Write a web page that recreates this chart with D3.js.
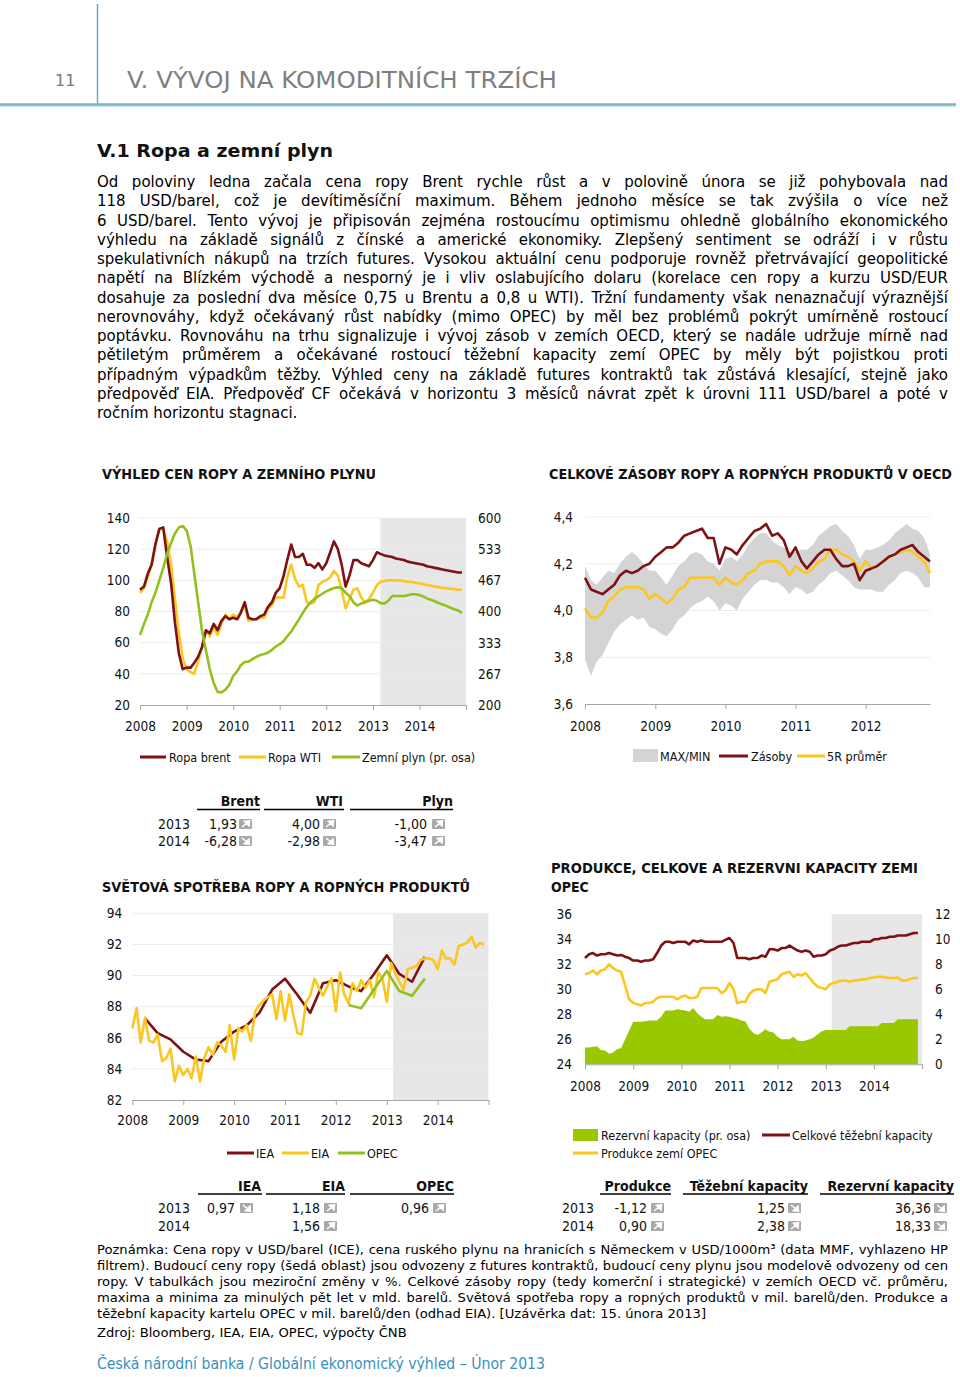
<!DOCTYPE html>
<html><head><meta charset="utf-8">
<script src="https://cdn.jsdelivr.net/npm/d3@7"></script>
<style>body{margin:0;background:#fff}svg{display:block}</style>
</head><body>
<svg id="page" width="960" height="1377"></svg>
<script>
// ---------------- DATA ----------------
// Chart 1: oil & gas prices, monthly Jan 2008 - Dec 2014
const brent = [94,96,104,110,123,133,134,115,98,73,53,43,
  44,44,47,51,57,68,66,72,68,74,77,75,
  76,75,79,86,76,75,75,77,78,83,86,92,
  95,103,113,123,115,115,117,110,110,108,111,107,
  111,118,125,120,110,96,103,113,113,111,110,109,
  113,118,117,116,115.5,115,114,113.5,113,112,111.5,111,
  110.5,110,109,108.5,108,107.5,107,106.5,106,105.5,105,105];
const wti = [92,95,102,110,124,133,133,125,110,88,66,50,
  43,41,40,48,57,68,64,70,65,72,78,75,
  78,76,80,84,74,75,75,76,76,82,84,89,
  89,89,102,110,101,96,97,86,85,86,97,99,
  100,102,106,103,94,82,88,94,95,89,86,88,
  92,97,99,99.5,100,100,100,100,99.5,99,99,98.5,
  98,97.5,97,96.5,96,95.5,95,95,94.5,94.5,94,94];
const gas = [350,373,393,420,440,467,493,523,547,567,580,583,
  573,540,483,420,360,317,277,247,228,227,233,243,
  262,272,285,292,293,298,303,307,309,312,318,325,
  330,337,347,357,370,383,397,410,420,427,433,438,
  443,447,450,452,450,440,433,420,413,417,420,423,
  425,423,418,417,423,433,433,433,433,435,437,437,
  435,432,428,425,422,418,415,412,408,405,402,397];
const priceTicks = [20,40,60,80,100,120,140];
const gasTicks = [200,267,333,400,467,533,600];
const yearLabels = ["2008","2009","2010","2011","2012","2013","2014"];

// Chart 2: OECD stocks, monthly Jan 2008 - Dec 2012
const stocks = [4.14,4.09,4.08,4.07,4.09,4.11,4.15,4.17,4.16,4.17,4.19,4.20,
  4.23,4.25,4.27,4.27,4.29,4.32,4.33,4.34,4.35,4.31,4.31,4.20,
  4.27,4.26,4.24,4.28,4.31,4.34,4.35,4.37,4.32,4.33,4.30,4.23,
  4.27,4.21,4.18,4.21,4.24,4.26,4.26,4.22,4.19,4.19,4.20,4.13,
  4.17,4.18,4.19,4.21,4.23,4.24,4.26,4.27,4.28,4.25,4.23,4.21];
const avg5 = [4.01,3.97,3.97,3.99,4.04,4.06,4.09,4.10,4.10,4.10,4.09,4.05,
  4.07,4.05,4.03,4.05,4.09,4.10,4.14,4.14,4.14,4.14,4.14,4.11,
  4.14,4.12,4.11,4.13,4.16,4.17,4.20,4.21,4.21,4.21,4.19,4.15,
  4.19,4.17,4.16,4.18,4.21,4.22,4.26,4.26,4.24,4.23,4.21,4.17,
  4.21,4.18,4.19,4.21,4.23,4.24,4.25,4.26,4.25,4.23,4.21,4.16];
const bandMax = [4.19,4.13,4.11,4.14,4.17,4.16,4.20,4.23,4.25,4.23,4.20,4.17,
  4.17,4.14,4.11,4.15,4.19,4.21,4.24,4.25,4.24,4.21,4.20,4.17,
  4.22,4.23,4.21,4.24,4.28,4.31,4.33,4.33,4.30,4.28,4.27,4.25,
  4.25,4.26,4.26,4.28,4.32,4.34,4.36,4.37,4.34,4.32,4.28,4.22,
  4.26,4.26,4.27,4.28,4.30,4.33,4.35,4.37,4.35,4.34,4.31,4.24];
const bandMin = [3.79,3.72,3.78,3.81,3.86,3.91,3.94,3.96,3.98,3.96,3.97,3.93,
  3.92,3.90,3.89,3.92,3.96,3.98,4.01,4.03,4.04,4.06,4.04,4.00,
  4.03,4.02,4.00,4.05,4.08,4.11,4.13,4.13,4.12,4.12,4.10,4.07,
  4.10,4.09,4.07,4.08,4.11,4.13,4.16,4.17,4.15,4.13,4.10,4.09,
  4.09,4.09,4.08,4.08,4.11,4.13,4.16,4.17,4.16,4.14,4.10,4.10];
const stockTicks = [3.6,3.8,4.0,4.2,4.4];
const stockYearLabels = ["2008","2009","2010","2011","2012"];

// Chart 3: world oil demand
const ieaQ = [87.25,86.3,85.9,85.1,84.6,84.5,85.75,86.4,86.8,87.6,89.1,89.8,
  88.75,87.6,89.5,89.7,89.3,89.0,90.1,91.3,90.1,89.6,91.2,92.0]; // quarterly 2008Q1-2013Q4
const eia = [86.6,87.9,85.7,87.3,85.8,85.7,86.2,84.5,84.7,85.3,83.2,84.2,
  83.6,84.0,83.4,84.8,83.2,84.7,85.4,84.9,85.7,85.5,85.1,86.8,
  84.6,86.6,86.4,86.8,85.8,87.7,88.1,88.4,88.6,88.8,87.2,89.0,
  87.1,88.8,87.5,86.3,86.2,88.3,88.7,89.8,89.2,88.7,89.3,89.8,
  87.7,90.2,88.8,88.2,89.5,89.0,89.7,89.2,89.7,88.6,90.2,89.8,
  88.3,90.8,90.2,89.6,89.1,90.4,90.5,90.6,91.0,91.1,91.1,91.0,
  90.4,91.6,91.1,91.1,90.7,91.9,92.0,92.1,92.5,91.8,92.1,92.0];
const opecQ = [88.1,87.9,89.1,90.3,89.0,88.7,89.8,91.15]; // quarterly 2012Q1-2013Q4
const demandTicks = [82,84,86,88,90,92,94];

// Chart 4: OPEC production, capacity, spare capacity
const capacity = [32.5,32.8,32.9,32.7,32.8,32.8,32.9,32.8,32.7,32.75,32.6,32.5,
  32.3,32.3,32.2,32.3,32.3,32.4,32.9,33.5,33.8,33.8,33.7,33.8,
  33.8,33.8,33.6,33.9,33.8,33.9,33.8,33.8,33.8,33.8,33.8,33.95,
  34.1,33.7,32.5,32.5,32.5,32.4,32.5,32.5,32.7,32.6,33.2,33.2,
  33.1,33.3,33.3,33.5,33.3,33.1,33.0,33.1,33.0,32.6,32.7,32.7,
  32.8,33.1,33.2,33.4,33.5,33.5,33.6,33.7,33.7,33.8,33.8,33.8,
  34.0,34.0,34.1,34.1,34.2,34.2,34.3,34.3,34.3,34.4,34.5,34.5];
const production = [31.2,31.3,31.5,31.2,31.5,31.6,32.0,31.7,31.5,31.4,30.3,29.2,
  28.9,28.8,28.7,28.9,28.9,29.0,29.3,29.4,29.4,29.4,29.4,29.2,
  29.4,29.5,29.3,29.3,29.4,30.1,30.1,30.1,30.1,30.1,29.7,29.9,
  30.5,30.0,28.9,29.0,29.0,29.6,29.9,30.0,30.0,29.7,30.6,30.7,
  30.8,31.2,31.3,31.4,31.0,31.2,31.1,31.3,30.9,30.5,30.2,30.1,
  30.0,30.4,30.5,30.6,30.7,30.7,30.6,30.7,30.7,30.8,30.8,30.9,
  30.95,31.0,31.0,30.95,30.9,30.9,30.95,30.7,30.7,30.8,30.9,30.9];
const spare = [1.35,1.35,1.4,1.45,1.15,1.1,0.85,0.95,1.2,1.3,2.0,2.7,
  3.4,3.4,3.4,3.45,3.5,3.5,3.5,3.8,4.3,4.3,4.3,4.4,
  4.35,4.3,4.2,4.5,4.1,3.8,3.6,3.6,3.6,3.95,3.8,3.85,
  3.8,3.7,3.65,3.5,3.45,2.85,2.5,2.35,2.55,2.8,2.6,2.55,
  2.2,2.0,2.0,2.0,2.2,1.9,1.85,1.9,2.0,2.15,2.4,2.65,
  2.75,2.75,2.75,2.75,2.75,2.75,3.05,3.05,3.05,3.05,3.05,3.05,
  3.05,3.05,3.3,3.3,3.3,3.3,3.6,3.6,3.6,3.6,3.6,3.6];
const capTicks = [24,26,28,30,32,34,36];
const spareTicks = [0,2,4,6,8,10,12];

// Tables (year-on-year changes, %)
const tableRows = ["2013","2014"];
const t1Cols = ["Brent","WTI","Plyn"];
const t1Vals = [["1,93","4,00","-1,00"],["-6,28","-2,98","-3,47"]];
const t1Dir  = [["up","up","up"],["down","down","up"]];
const t3Cols = ["IEA","EIA","OPEC"];
const t3Vals = [["0,97","1,18","0,96"],["","1,56",""]];
const t3Dir  = [["down","up","up"],["","up",""]];
const t4Cols = ["Produkce","Těžební kapacity","Rezervní kapacity"];
const t4Vals = [["-1,12","1,25","36,36"],["0,90","2,38","18,33"]];
const t4Dir  = [["up","down","down"],["up","up","down"]];

// Texts
const bodyLines = [
"Od poloviny ledna začala cena ropy Brent rychle růst a v polovině února se již pohybovala nad",
"118 USD/barel, což je devítiměsíční maximum. Během jednoho měsíce se tak zvýšila o více než",
"6 USD/barel. Tento vývoj je připisován zejména rostoucímu optimismu ohledně globálního ekonomického",
"výhledu na základě signálů z čínské a americké ekonomiky. Zlepšený sentiment se odráží i v růstu",
"spekulativních nákupů na trzích futures. Vysokou aktuální cenu podporuje rovněž přetrvávající geopolitické",
"napětí na Blízkém východě a nesporný je i vliv oslabujícího dolaru (korelace cen ropy a kurzu USD/EUR",
"dosahuje za poslední dva měsíce 0,75 u Brentu a 0,8 u WTI). Tržní fundamenty však nenaznačují výraznější",
"nerovnováhy, když očekávaný růst nabídky (mimo OPEC) by měl bez problémů pokrýt umírněně rostoucí",
"poptávku. Rovnováhu na trhu signalizuje i vývoj zásob v zemích OECD, který se nadále udržuje mírně nad",
"pětiletým průměrem a očekávané rostoucí těžební kapacity zemí OPEC by měly být pojistkou proti",
"případným výpadkům těžby. Výhled ceny na základě futures kontraktů tak zůstává klesající, stejně jako",
"předpověď EIA. Předpověď CF očekává v horizontu 3 měsíců návrat zpět k úrovni 111 USD/barel a poté v",
"ročním horizontu stagnaci."];
const noteLines = [
"Poznámka: Cena ropy v USD/barel (ICE), cena ruského plynu na hranicích s Německem v USD/1000m³ (data MMF, vyhlazeno HP",
"filtrem). Budoucí ceny ropy (šedá oblast) jsou odvozeny z futures kontraktů, budoucí ceny plynu jsou modelově odvozeny od cen",
"ropy. V tabulkách jsou meziroční změny v %. Celkové zásoby ropy (tedy komerční i strategické) v zemích OECD vč. průměru,",
"maxima a minima za minulých pět let v mld. barelů. Světová spotřeba ropy a ropných produktů v mil. barelů/den. Produkce a",
"těžební kapacity kartelu OPEC v mil. barelů/den (odhad EIA). [Uzávěrka dat: 15. února 2013]"];

// ---------------- DRAWING ----------------
const svg = d3.select('#page');
const F = "'DejaVu Sans Condensed','DejaVu Sans',sans-serif";
const FN = "'DejaVu Sans','Verdana',sans-serif";
const RED = '#7d1214', YEL = '#fbc620', GRN = '#93c01f', AX = '#a6a6a6', TXT = '#111';
const m84 = d3.timeMonth.range(new Date(2008,0,1), new Date(2015,0,1));
const m60 = d3.timeMonth.range(new Date(2008,0,1), new Date(2013,0,1));
const yearTicks = d3.timeYear.range(new Date(2008,0,1), new Date(2015,0,2));
const fmt1 = d3.formatLocale({decimal:',',thousands:' ',grouping:[3],currency:['','']}).format('.1f');

function txt(g, x, y, s, o={}) {
  const t = g.append('text').attr('x', x).attr('y', y).text(s)
    .style('font-family', o.family || F).style('font-size', (o.size||13)+'px')
    .attr('fill', o.fill || TXT);
  if (o.weight) t.style('font-weight', o.weight);
  if (o.anchor) t.attr('text-anchor', o.anchor);
  if (o.len) t.attr('textLength', o.len).attr('lengthAdjust', 'spacingAndGlyphs');
  return t;
}
// justified block; font size is scaled so the widest justified line fits exactly
function justify(g, lines, x, y, lh, width, family, size, fill, maxSize) {
  const ts = lines.map((ln,i) => txt(g, x, y + i*lh, ln, {family, size, fill}));
  const nat = ts.map(t => t.node().getComputedTextLength());
  const mx = d3.max(nat.slice(0, -1));
  const s = Math.min(maxSize, size*width/mx*0.998);
  ts.forEach(t => t.style('font-size', s+'px'));
  ts.forEach((t,i) => {
    if (i === ts.length-1) return;
    const w = t.node().getComputedTextLength();
    const n = (lines[i].match(/ /g)||[]).length;
    if (n) t.style('word-spacing', ((width - w)/n) + 'px');
  });
  return s;
}
function xAxis(g, x, y0, ticks, labels, pad) {
  const a = g.append('g').attr('transform', `translate(0,${y0})`)
    .call(d3.axisBottom(x).tickValues(ticks).tickFormat((d,i)=>labels[i]||'').tickSize(5).tickSizeOuter(0).tickPadding(pad));
  a.select('.domain').attr('stroke', AX);
  a.selectAll('.tick line').attr('stroke', AX);
  a.selectAll('.tick text').attr('fill', TXT).style('font-family', F).style('font-size', '13.5px');
}
function yAxis(g, axis, xpos, pad, fmt) {
  const a = g.append('g').attr('transform', `translate(${xpos},0)`)
    .call(axis.tickSize(0).tickPadding(pad).tickFormat(fmt));
  a.select('.domain').remove();
  a.selectAll('.tick text').attr('fill', TXT).style('font-family', F).style('font-size', '13.5px');
}
function grid(g, y, ticks, x0, x1) {
  g.selectAll(null).data(ticks.slice(1)).enter().append('line')
    .attr('x1', x0).attr('x2', x1).attr('y1', d=>y(d)).attr('y2', d=>y(d))
    .attr('stroke', '#ececec').attr('stroke-width', 1);
}
function path(g, data, xs, x, y, color, w=2.6) {
  g.append('path').datum(data)
    .attr('d', d3.line().x((d,i)=>x(xs[i])).y(d=>y(d)))
    .attr('fill','none').attr('stroke', color).attr('stroke-width', w).attr('stroke-linejoin','round');
}
function legLine(g, x1, x2, y, c) { g.append('line').attr('x1',x1).attr('x2',x2).attr('y1',y).attr('y2',y).attr('stroke',c).attr('stroke-width',3); }
function icon(g, x, y, dir) {
  if (!dir) return;
  g.append('rect').attr('x',x).attr('y',y).attr('width',13).attr('height',10).attr('rx',1).attr('fill','#a9a9a9');
  const p = dir === 'up'
    ? `M${x+3},${y+8} L${x+8.5},${y+3.5} M${x+10.5},${y+1.8} L${x+5.5},${y+2.3} L${x+10},${y+6.8} Z`
    : `M${x+3},${y+2} L${x+8.5},${y+6.5} M${x+10.5},${y+8.2} L${x+5.5},${y+7.7} L${x+10},${y+3.2} Z`;
  g.append('path').attr('d', p).attr('stroke','#fff').attr('stroke-width',1.6).attr('fill','#fff');
}
function table(g, cols, vals, dirs, L) {
  cols.forEach((c,j) => {
    txt(g, L.hr[j], L.hy, c, {anchor:'end', weight:'bold', size:14});
    g.append('line').attr('x1',L.ul[j][0]).attr('x2',L.ul[j][1]).attr('y1',L.uy).attr('y2',L.uy).attr('stroke','#000').attr('stroke-width',1.5);
  });
  tableRows.forEach((r,i) => {
    const y = L.ry[i];
    txt(g, L.yx, y, r, {size:14});
    vals[i].forEach((v,j) => {
      if (v) txt(g, L.vr[j], y, v, {anchor:'end', size:14});
      icon(g, L.ix[j], y-10, dirs[i][j]);
    });
  });
}

// ---- header ----
const hd = svg.append('g');
txt(hd, 55, 86, '11', {family:FN, size:16, fill:'#7a7a7a'});
hd.append('line').attr('x1',97.5).attr('x2',97.5).attr('y1',4).attr('y2',104).attr('stroke','#6da7c3').attr('stroke-width',1.5);
txt(hd, 127, 88, 'V. VÝVOJ NA KOMODITNÍCH TRZÍCH', {family:FN, size:23, fill:'#7f7f7f', len:430});
hd.append('line').attr('x1',0).attr('x2',956).attr('y1',104.5).attr('y2',104.5).attr('stroke','#7fb1c9').attr('stroke-width',2.5);
hd.append('line').attr('x1',0).attr('x2',956).attr('y1',106.5).attr('y2',106.5).attr('stroke','#cfe2ec').attr('stroke-width',1.2);
txt(hd, 97, 157, 'V.1 Ropa a zemní plyn', {family:FN, size:18, weight:'bold', len:236});

// ---- body ----
justify(svg.append('g'), bodyLines, 97, 187, 19.25, 851, FN, 14, '#000', 15);

// ---- chart 1 ----
const c1 = svg.append('g');
txt(c1, 102, 479, 'VÝHLED CEN ROPY A ZEMNÍHO PLYNU', {weight:'bold', size:14, len:274});
const x1 = d3.scaleTime().domain([new Date(2008,0,1), new Date(2015,0,1)]).range([140,466]);
const y1 = d3.scaleLinear().domain([20,140]).range([705,518]);
const y1r = d3.scaleLinear().domain([200,600]).range([705,518]);
c1.append('rect').attr('x', x1(new Date(2013,2,1))).attr('y', 518).attr('width', 466 - x1(new Date(2013,2,1))).attr('height', 187).attr('fill','#e7e7e7');
grid(c1, y1, priceTicks, 140, 466);
xAxis(c1, x1, 705, yearTicks, yearLabels, 11);
yAxis(c1, d3.axisLeft(y1).tickValues(priceTicks), 140, 10, d=>d);
yAxis(c1, d3.axisRight(y1r).tickValues(gasTicks), 466, 12, d=>d);
path(c1, wti, m84, x1, y1, YEL);
path(c1, brent, m84, x1, y1, RED);
path(c1, gas, m84, x1, y1r, GRN);
legLine(c1, 140, 166, 757, RED); txt(c1, 169, 761.5, 'Ropa brent', {size:12.5});
legLine(c1, 239, 266, 757, YEL); txt(c1, 268, 761.5, 'Ropa WTI', {size:12.5});
legLine(c1, 332, 360, 757, GRN); txt(c1, 362, 761.5, 'Zemní plyn (pr. osa)', {size:12.5});

// ---- chart 2 ----
const c2 = svg.append('g');
txt(c2, 549, 479, 'CELKOVÉ ZÁSOBY ROPY A ROPNÝCH PRODUKTŮ V OECD', {weight:'bold', size:14, len:403});
const x2 = d3.scaleTime().domain([new Date(2008,0,1), new Date(2012,11,1)]).range([585,930]);
const y2 = d3.scaleLinear().domain([3.6,4.4]).range([704,517]);
grid(c2, y2, stockTicks, 585, 930);
c2.append('path').datum(bandMax)
  .attr('d', d3.area().x((d,i)=>x2(m60[i])).y0((d,i)=>y2(bandMin[i])).y1(d=>y2(d)))
  .attr('fill','#d4d4d4');
xAxis(c2, x2, 704, d3.timeYear.range(new Date(2008,0,1), new Date(2012,11,1)), stockYearLabels, 12);
yAxis(c2, d3.axisLeft(y2).tickValues(stockTicks), 585, 12, fmt1);
path(c2, avg5, m60, x2, y2, YEL);
path(c2, stocks, m60, x2, y2, RED);
c2.append('rect').attr('x',633).attr('y',749).attr('width',25).attr('height',13).attr('fill','#d4d4d4');
txt(c2, 660, 760.5, 'MAX/MIN', {size:12.5});
legLine(c2, 719, 748, 756, RED); txt(c2, 751, 760.5, 'Zásoby', {size:12.5});
legLine(c2, 797, 825, 756, YEL); txt(c2, 827, 760.5, '5R průměr', {size:12.5});

// ---- table 1 ----
table(svg.append('g'), t1Cols, t1Vals, t1Dir, {
  hr:[260,343,453], hy:806, ul:[[197,260],[264,344],[350,453]], uy:809.5,
  ry:[829,846], yx:158, vr:[237,320,427], ix:[239,323,432]});

// ---- chart 3 ----
const c3 = svg.append('g');
txt(c3, 102, 892, 'SVĚTOVÁ SPOTŘEBA ROPY A ROPNÝCH PRODUKTŮ', {weight:'bold', size:14, len:368});
const x3 = d3.scaleTime().domain([new Date(2008,0,1), new Date(2015,0,1)]).range([132.3,488.5]);
const y3 = d3.scaleLinear().domain([82,94]).range([1100,913.3]);
const fc3 = x3(new Date(2013,1,15));
c3.append('rect').attr('x', fc3).attr('y', 913.3).attr('width', 488.5 - fc3).attr('height', 186.7).attr('fill','#e7e7e7');
grid(c3, y3, demandTicks, 132.3, 488.5);
xAxis(c3, x3, 1100, yearTicks, yearLabels, 10);
yAxis(c3, d3.axisLeft(y3).tickValues(demandTicks), 132.3, 10, d=>d);
const q24 = d3.timeMonth.every(3).range(new Date(2008,1,1), new Date(2014,0,1));
const q8 = d3.timeMonth.every(3).range(new Date(2012,1,1), new Date(2014,0,1));
path(c3, ieaQ, q24, x3, y3, RED);
path(c3, eia, m84, x3, y3, YEL);
path(c3, opecQ, q8, x3, y3, GRN);
legLine(c3, 227, 254, 1153, RED); txt(c3, 256, 1157.5, 'IEA', {size:12.5});
legLine(c3, 282, 309, 1153, YEL); txt(c3, 311, 1157.5, 'EIA', {size:12.5});
legLine(c3, 338, 365, 1153, GRN); txt(c3, 367, 1157.5, 'OPEC', {size:12.5});

// ---- chart 4 ----
const c4 = svg.append('g');
txt(c4, 551, 873, 'PRODUKCE, CELKOVE A REZERVNI KAPACITY ZEMI', {weight:'bold', size:14, len:367});
txt(c4, 551, 892, 'OPEC', {weight:'bold', size:14});
const x4 = d3.scaleTime().domain([new Date(2008,0,1), new Date(2015,0,1)]).range([585,922]);
const y4 = d3.scaleLinear().domain([24,36]).range([1064.3,914.3]);
const y4r = d3.scaleLinear().domain([0,12]).range([1064.3,914.3]);
const fc4 = x4(new Date(2013,1,15));
c4.append('rect').attr('x', fc4).attr('y', 914.3).attr('width', 922 - fc4).attr('height', 150).attr('fill','#e7e7e7');
c4.append('path').datum(spare)
  .attr('d', d3.area().x((d,i)=>x4(m84[i])).y0(y4r(0)).y1(d=>y4r(d)))
  .attr('fill','#99c800');
xAxis(c4, x4, 1064.3, yearTicks, yearLabels, 12);
yAxis(c4, d3.axisLeft(y4).tickValues(capTicks), 585, 13, d=>d);
yAxis(c4, d3.axisRight(y4r).tickValues(spareTicks), 922, 13, d=>d);
path(c4, capacity, m84, x4, y4, RED);
path(c4, production, m84, x4, y4, YEL);
c4.append('rect').attr('x',573).attr('y',1129).attr('width',25).attr('height',12).attr('fill','#99c800');
txt(c4, 601, 1139.5, 'Rezervní kapacity (pr. osa)', {size:12.5});
legLine(c4, 762, 790, 1135, RED); txt(c4, 792, 1139.5, 'Celkové těžební kapacity', {size:12.5});
legLine(c4, 573, 598, 1153, YEL); txt(c4, 601, 1157.5, 'Produkce zemí OPEC', {size:12.5});

// ---- tables 3 & 4 ----
table(svg.append('g'), t3Cols, t3Vals, t3Dir, {
  hr:[261,345,454], hy:1191, ul:[[198,262],[266,345],[350,454]], uy:1194,
  ry:[1213,1231], yx:158, vr:[235,320,429], ix:[240,324,433]});
table(svg.append('g'), t4Cols, t4Vals, t4Dir, {
  hr:[671,808,954], hy:1191, ul:[[600,671],[683,808],[820,954]], uy:1194,
  ry:[1213,1231], yx:562, vr:[647,785,931], ix:[651,788,934]});

// ---- notes ----
const ns = justify(svg.append('g'), noteLines, 97, 1253.5, 16, 851, FN, 13, '#000', 13.2);
txt(svg, 97, 1336.5, 'Zdroj: Bloomberg, IEA, EIA, OPEC, výpočty ČNB', {family:FN, size:ns, fill:'#000'});
txt(svg, 97, 1369, 'Česká národní banka / Globální ekonomický výhled – Únor 2013', {size:15, fill:'#3990bf', len:448});
</script>
</body></html>
